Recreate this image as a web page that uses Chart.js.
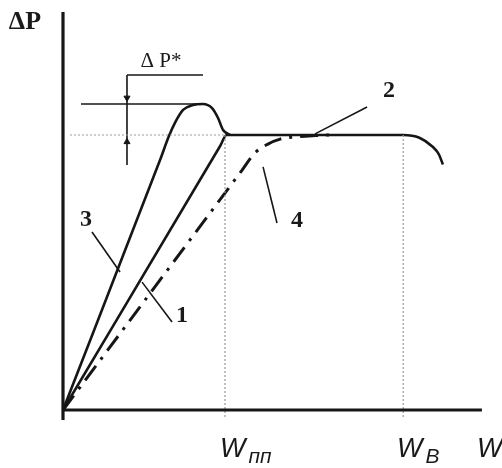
<!DOCTYPE html>
<html>
<head>
<meta charset="utf-8">
<style>
  html, body { margin: 0; padding: 0; background: #fff; }
  #wrap { width: 502px; height: 468px; }
</style>
<script src="https://cdn.jsdelivr.net/npm/chart.js"></script>
</head>
<body>
<div id="wrap"><canvas id="chart"></canvas></div>
<script>
// values in chart units: W_пп = 1, plateau ΔP = 1
var W_PP = 1.0;
var W_V = 2.1;
var PLATEAU = 1.0;

// curve 3 (with overshoot peak)
var curve3X = [0, 0.599, 0.654, 0.691, 0.741, 0.802, 0.864, 0.920, 0.957, 0.988, 1.031];
var curve3Y = [0, 0.909, 0.996, 1.044, 1.091, 1.109, 1.113, 1.098, 1.062, 1.018, 1.0];
// curve 1 + plateau (2)
var curve1X = [0, 0.97, 1.01, 1.05, 2.10, 2.20, 2.28, 2.32, 2.345];
var curve1Y = [0, 0.960, 1.0, 1.0, 1.0, 0.990, 0.958, 0.930, 0.893];
// curve 4 (dash-dot)
var curve4X = [0, 1.10, 1.185, 1.265, 1.340, 1.432, 1.556, 1.648];
var curve4Y = [0, 0.868, 0.935, 0.967, 0.985, 0.993, 0.998, 1.0];

// leader lines for the curve numbers
var lead1 = [[0.488, 0.465], [0.673, 0.320]];
var lead2 = [[1.877, 1.102], [1.556, 1.004]];
var lead3 = [[0.179, 0.647], [0.352, 0.502]];
var lead4 = [[1.235, 0.884], [1.321, 0.680]];

// ΔP* bracket
var peakLine = [[0.111, 1.113], [0.864, 1.113]];
var bracketTop = [[0.395, 1.218], [0.864, 1.218]];
var bracketV = [[0.395, 1.218], [0.395, 0.891]];
var arrowsDown = [[0.395, 1.135]];
var arrowsUp = [[0.395, 0.975]];

function pts(xs, ys) {
  return xs.map(function(x, i) { return {x: x, y: ys[i]}; });
}
function pairs(p) {
  return p.map(function(a) { return {x: a[0], y: a[1]}; });
}

// px mapping: origin at (63,410), 162 px per x unit, 275 px per y unit
var PX_X = 162, PX_Y = 275;
var xMin = -63 / PX_X, xMax = (502 - 63) / PX_X;
var yMin = -(468 - 410) / PX_Y, yMax = 410 / PX_Y;

var black = '#161616';
function solid(data, w, tension) {
  return { data: data, borderColor: black, borderWidth: w, pointRadius: 0,
    fill: false, tension: 0, cubicInterpolationMode: tension ? 'monotone' : 'default' };
}

var datasets = [
  // axes
  solid(pairs([[0, -0.036], [0, 1.447]]), 3.2),
  solid(pairs([[0, 0], [2.586, 0]]), 3.2),
  // dotted guides
  { data: pairs([[0.043, PLATEAU], [W_PP, PLATEAU]]), borderColor: '#9a9a9a', borderWidth: 1.2, borderDash: [2, 2], pointRadius: 0 },
  { data: pairs([[W_PP, PLATEAU], [W_PP, -0.03]]), borderColor: '#9a9a9a', borderWidth: 1.2, borderDash: [2, 2], pointRadius: 0 },
  { data: pairs([[W_V, PLATEAU], [W_V, -0.03]]), borderColor: '#9a9a9a', borderWidth: 1.2, borderDash: [2, 2], pointRadius: 0 },
  // curves
  solid(pts(curve3X, curve3Y), 2.6, true),
  solid(pts(curve1X, curve1Y), 2.6, true),
  { data: pts(curve4X, curve4Y), borderColor: black, borderWidth: 3, borderDash: [18, 8, 3, 8],
    pointRadius: 0, cubicInterpolationMode: 'monotone' },
  // leaders
  solid(pairs(lead1), 1.6), solid(pairs(lead2), 1.6), solid(pairs(lead3), 1.6), solid(pairs(lead4), 1.6),
  // ΔP* marking
  solid(pairs(peakLine), 1.6), solid(pairs(bracketTop), 1.6), solid(pairs(bracketV), 1.6),
  { data: pairs(arrowsDown), showLine: false, pointStyle: 'triangle', rotation: 180, pointRadius: 3.5,
    backgroundColor: black, borderColor: black, borderWidth: 1 },
  { data: pairs(arrowsUp), showLine: false, pointStyle: 'triangle', rotation: 0, pointRadius: 3.5,
    backgroundColor: black, borderColor: black, borderWidth: 1 }
];

var texts = [
  { t: 'ΔP', x: -0.235, y: 1.411, font: 'bold 26px "Liberation Serif"' },
  { t: 'Δ P*', x: 0.605, y: 1.269, font: '21px "Liberation Serif"' },
  { t: '1', x: 0.735, y: 0.342, font: 'bold 24px "Liberation Serif"' },
  { t: '2', x: 2.012, y: 1.160, font: 'bold 24px "Liberation Serif"' },
  { t: '3', x: 0.142, y: 0.691, font: 'bold 24px "Liberation Serif"' },
  { t: '4', x: 1.444, y: 0.687, font: 'bold 24px "Liberation Serif"' }
];
var wLabels = [
  { sub: 'пп', x: 0.969 },
  { sub: 'В', x: 2.062 },
  { sub: '', x: 2.556 }
];

var textPlugin = {
  id: 'texts',
  afterDraw: function(chart) {
    var c = chart.ctx, sx = chart.scales.x, sy = chart.scales.y;
    c.save();
    c.fillStyle = '#1a1a1a';
    c.textBaseline = 'middle';
    c.textAlign = 'center';
    texts.forEach(function(o) {
      c.font = o.font;
      c.fillText(o.t, sx.getPixelForValue(o.x), sy.getPixelForValue(o.y));
    });
    c.textAlign = 'left';
    var wy = sy.getPixelForValue(-0.145);
    wLabels.forEach(function(o) {
      var px = sx.getPixelForValue(o.x);
      c.font = 'italic 27px "Liberation Sans"';
      c.fillText('W', px, wy);
      var w = c.measureText('W').width;
      if (o.sub) {
        c.font = 'italic 21px "Liberation Sans"';
        c.fillText(o.sub, px + w + 3, wy + 7);
      }
    });
    c.restore();
  }
};

new Chart(document.getElementById('chart'), {
  type: 'line',
  data: { datasets: datasets },
  options: {
    animation: false,
    responsive: true,
    maintainAspectRatio: false,
    layout: { padding: 0, autoPadding: false },
    plugins: { legend: { display: false }, tooltip: { enabled: false } },
    scales: {
      x: { type: 'linear', min: xMin, max: xMax, display: false },
      y: { type: 'linear', min: yMin, max: yMax, display: false }
    }
  },
  plugins: [textPlugin]
});
</script>
</body>
</html>
